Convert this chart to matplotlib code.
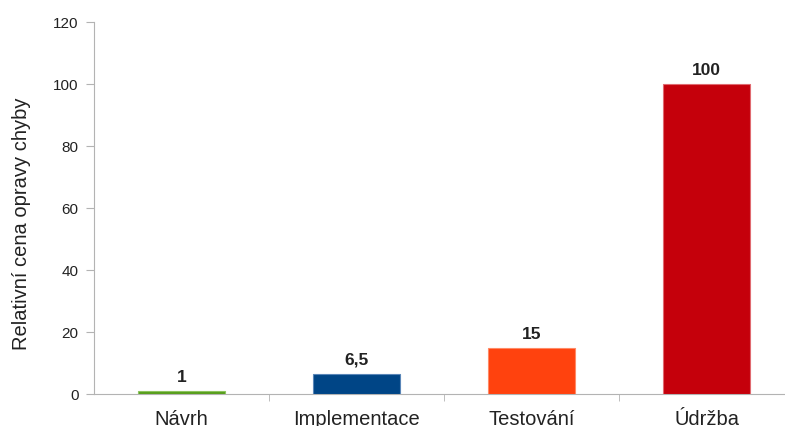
import numpy as np
import matplotlib.pyplot as plt

plt.rcParams['font.family'] = ['Liberation Sans', 'DejaVu Sans']

kategorie = ['Návrh', 'Implementace', 'Testování', 'Údržba']
hodnoty = [1, 6.5, 15, 100]
popisky = ['1', '6,5', '15', '100']
barvy = ['#579d1c', '#004586', '#ff420e', '#c5000b']
okraje = ['#8cc45e', '#5a86b8', '#ff8a66', '#e06a70']

fig = plt.figure(figsize=(7.85, 4.27), dpi=100)
ax = fig.add_axes([94/785, 32/427, 700/785, 372/427])

x = np.arange(len(kategorie))
sloupce = ax.bar(x, hodnoty, width=0.5, color=barvy, edgecolor=okraje, linewidth=0.8, zorder=3)

for s, t in zip(sloupce, popisky):
    ax.annotate(t, (s.get_x() + s.get_width()/2, s.get_height()),
                xytext=(0, 5), textcoords='offset points',
                ha='center', va='bottom', fontsize=12.5, fontweight='bold', color='#222222')

ax.set_xlim(-0.5, 3.5)
ax.set_ylim(0, 120)
ax.set_yticks(np.arange(0, 121, 20))
ax.set_xticks(x)
ax.set_xticklabels(kategorie, fontsize=14.5)
ax.set_xticks(x[:-1] + 0.5, minor=True)
ax.tick_params(axis='x', which='major', length=0, pad=11, colors='#222222')
ax.tick_params(axis='x', which='minor', length=5, color='#b3b3b3')
ax.tick_params(axis='y', length=6, color='#b3b3b3', labelsize=11, labelcolor='#222222', pad=5)

ax.set_ylabel('Relativní cena opravy chyby', fontsize=14.5, color='#222222', va='center')
ax.yaxis.set_label_coords(-0.104, 0.46)

for side in ['top', 'right']:
    ax.spines[side].set_visible(False)
for side in ['left', 'bottom']:
    ax.spines[side].set_color('#b3b3b3')

plt.savefig('out.png', dpi=100)
